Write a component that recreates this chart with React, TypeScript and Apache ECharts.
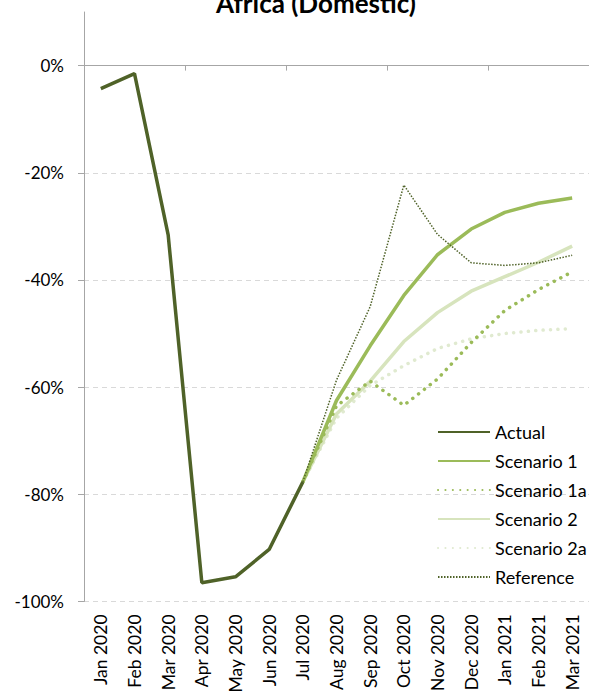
import React, { useEffect, useRef } from "react";
import * as echarts from "echarts";

const months = [
  "Jan 2020", "Feb 2020", "Mar 2020", "Apr 2020", "May 2020", "Jun 2020", "Jul 2020",
  "Aug 2020", "Sep 2020", "Oct 2020", "Nov 2020", "Dec 2020", "Jan 2021", "Feb 2021", "Mar 2021",
];
const actual = [-4.3, -1.5, -31.6, -96.5, -95.4, -90.3, -77.7, null, null, null, null, null, null, null, null];
const scenario1 = [null, null, null, null, null, null, -77.7, -62.5, -52.3, -42.9, -35.3, -30.5, -27.4, -25.7, -24.7];
const scenario1a = [null, null, null, null, null, null, -77.7, -63.5, -58.9, -63.4, -58.5, -51.7, -45.7, -41.8, -38.5];
const scenario2 = [null, null, null, null, null, null, -77.7, -65.0, -58.9, -51.5, -46.1, -42.1, -39.4, -36.7, -33.7];
const scenario2a = [null, null, null, null, null, null, -77.7, -65.8, -59.7, -56.0, -52.8, -51.0, -50.0, -49.4, -49.1];
const reference = [null, null, null, null, null, null, -77.7, -58.7, -45.0, -22.3, -31.5, -36.8, -37.3, -36.8, -35.4];
const yTicks = [-100, -80, -60, -40, -20, 0];

const FONT = "Lato, 'Open Sans', sans-serif";

export default function App() {
  const ref = useRef<HTMLDivElement>(null);
  useEffect(() => {
    if (!ref.current) return;
    const chart = echarts.init(ref.current, null, { renderer: "svg" });
    const dark = "#4f6228";
    const mid = "#9bbb59";
    const light = "#d7e4bd";
    const lightDot = "#e0ead0";
    chart.setOption({
      animation: false,
      backgroundColor: "#ffffff",
      textStyle: { fontFamily: FONT },
      title: {
        text: "Africa (Domestic)",
        left: 311,
        top: -15,
        textAlign: "center",
        textStyle: { fontFamily: FONT, fontSize: 26, fontWeight: "bold", color: "#000" },
      },
      grid: { left: 84, right: -5, top: 12, bottom: 92, containLabel: false },
      legend: {
        orient: "vertical",
        left: 437,
        top: 423,
        padding: 0,
        itemWidth: 52,
        itemHeight: 14,
        itemGap: 11,
        itemStyle: { opacity: 0 },
        textStyle: { fontFamily: FONT, fontSize: 18, color: "#000" },
        data: ["Actual", "Scenario 1", "Scenario 1a", "Scenario 2", "Scenario 2a", "Reference"],
      },
      xAxis: [
        {
          type: "category",
          data: months,
          boundaryGap: true,
          axisLine: { onZero: true, lineStyle: { color: "#a6a6a6", width: 1 } },
          axisTick: { show: true, length: 5, lineStyle: { color: "#a6a6a6" } },
          axisLabel: { show: false },
          splitLine: { show: false },
        },
        {
          type: "category",
          data: months,
          position: "bottom",
          boundaryGap: true,
          axisLine: { show: false, onZero: false },
          axisTick: { show: false },
          axisLabel: { rotate: 90, margin: 13, fontFamily: FONT, fontSize: 17.5, color: "#000" },
          splitLine: { show: false },
        },
      ],
      yAxis: {
        type: "value",
        min: -100,
        max: 10,
        interval: 20,
        axisLine: { show: true, lineStyle: { color: "#a6a6a6", width: 1 } },
        axisTick: { show: true, length: 6, customValues: yTicks, lineStyle: { color: "#a6a6a6" } },
        axisLabel: {
          customValues: yTicks,
          margin: 20,
          fontFamily: FONT,
          fontSize: 17,
          color: "#000",
          formatter: (v: number) => `${Math.round(v)}%`,
        },
        splitLine: {
          show: true,
          showMaxLine: false,
          lineStyle: { color: "#d9d9d9", type: [5, 4], width: 1 },
        },
      },
      series: [
        {
          name: "Reference",
          type: "line",
          data: reference,
          symbol: "none",
          lineStyle: { color: dark, width: 1.5, type: [1.5, 1.5] },
          itemStyle: { color: dark },
          z: 6,
        },
        {
          name: "Scenario 2a",
          type: "line",
          data: scenario2a,
          symbol: "none",
          lineStyle: { color: lightDot, width: 3.5, type: [0.1, 7.3], cap: "round" },
          itemStyle: { color: lightDot },
          z: 2,
        },
        {
          name: "Scenario 2",
          type: "line",
          data: scenario2,
          symbol: "none",
          lineStyle: { color: light, width: 3.5 },
          itemStyle: { color: light },
          z: 3,
        },
        {
          name: "Scenario 1a",
          type: "line",
          data: scenario1a,
          symbol: "none",
          lineStyle: { color: mid, width: 3.5, type: [0.1, 7.3], cap: "round" },
          itemStyle: { color: mid },
          z: 4,
        },
        {
          name: "Scenario 1",
          type: "line",
          data: scenario1,
          symbol: "none",
          lineStyle: { color: mid, width: 3.5 },
          itemStyle: { color: mid },
          z: 5,
        },
        {
          name: "Actual",
          type: "line",
          data: actual,
          symbol: "none",
          lineStyle: { color: dark, width: 3.5 },
          itemStyle: { color: dark },
          z: 7,
        },
      ],
    });
    return () => chart.dispose();
  }, []);
  return <div ref={ref} style={{ width: 589, height: 696, position: "absolute", left: 0, top: 0 }} />;
}
